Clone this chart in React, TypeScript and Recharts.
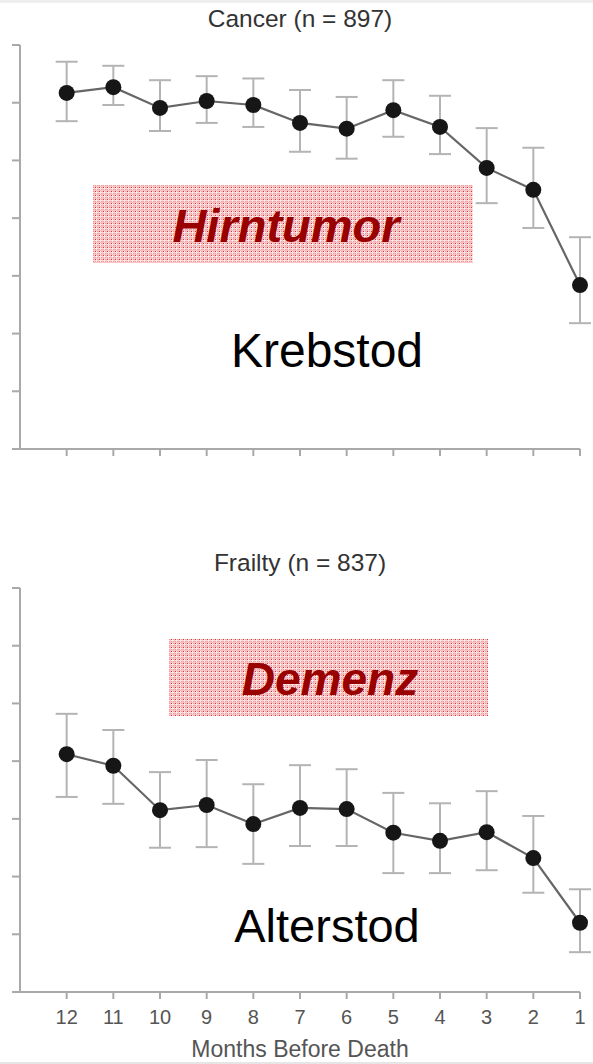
import React from 'react';
import { LineChart, Line, XAxis, YAxis, ErrorBar } from 'recharts';

const months = [12, 11, 10, 9, 8, 7, 6, 5, 4, 3, 2, 1];
const yTicks = [0, 1, 2, 3, 4, 5, 6, 7];

const cancerMean = [6.17, 6.27, 5.91, 6.03, 5.96, 5.65, 5.55, 5.87, 5.58, 4.87, 4.49, 2.84];
const cancerUpper = [6.71, 6.64, 6.39, 6.46, 6.42, 6.22, 6.1, 6.39, 6.12, 5.56, 5.22, 3.67];
const cancerLower = [5.68, 5.96, 5.51, 5.65, 5.58, 5.15, 5.03, 5.41, 5.11, 4.26, 3.83, 2.18];

const frailtyMean = [4.12, 3.92, 3.15, 3.24, 2.91, 3.19, 3.17, 2.76, 2.62, 2.77, 2.32, 1.2];
const frailtyUpper = [4.82, 4.54, 3.81, 4.02, 3.6, 3.93, 3.86, 3.45, 3.27, 3.48, 3.05, 1.78];
const frailtyLower = [3.38, 3.26, 2.5, 2.51, 2.22, 2.53, 2.53, 2.06, 2.06, 2.11, 1.72, 0.69];

const FONT = '"Liberation Sans", Arial, Helvetica, sans-serif';
const AXIS = '#a9a9a9';

const buildRows = (mean: number[], upper: number[], lower: number[]) =>
  months.map((m, i) => ({
    month: m,
    value: mean[i],
    err: [+(mean[i] - lower[i]).toFixed(2), +(upper[i] - mean[i]).toFixed(2)],
  }));

const cancerRows = buildRows(cancerMean, cancerUpper, cancerLower);
const frailtyRows = buildRows(frailtyMean, frailtyUpper, frailtyLower);

// pink plaid fill behind the diagnosis labels
const Hatch = ({ id }: { id: string }) => (
  <defs>
    <pattern id={id} width={4} height={4} patternUnits="userSpaceOnUse">
      <rect width={4} height={4} fill="#f19a9c" />
      <rect x={0} y={0} width={4} height={1} fill="#fde8e8" />
      <rect x={0} y={0} width={1} height={4} fill="#fde8e8" />
      <rect x={2} y={0} width={1} height={4} fill="#f7c3c4" />
      <rect x={0} y={2} width={4} height={1} fill="#f7c3c4" />
      <rect x={3} y={3} width={1} height={1} fill="#de2f36" />
    </pattern>
  </defs>
);

interface PanelProps {
  rows: { month: number; value: number; err: number[] }[];
  height: number;
  top: number;
  axisHeight: number;
  showTicks: boolean;
  patternId: string;
  children?: React.ReactNode;
}

const Panel: React.FC<PanelProps> = ({ rows, height, top, axisHeight, showTicks, patternId, children }) => (
  <LineChart
    width={593}
    height={height}
    data={rows}
    margin={{ top, right: 13, bottom: 0, left: 0 }}
    style={{ fontFamily: FONT }}
  >
    <Hatch id={patternId} />
    <XAxis
      type="number"
      dataKey="month"
      domain={[1, 13]}
      reversed
      ticks={months}
      interval={0}
      height={axisHeight}
      stroke={AXIS}
      strokeWidth={2}
      tickSize={7}
      tickMargin={11}
      tick={{ fill: '#555', fontSize: 20, fontFamily: FONT }}
      tickFormatter={(v) => (showTicks ? String(v) : '')}
      label={
        showTicks
          ? { value: 'Months Before Death', position: 'insideBottom', offset: 7, fill: '#555', fontSize: 23, fontFamily: FONT }
          : undefined
      }
    />
    <YAxis
      type="number"
      domain={[0, 7]}
      ticks={yTicks}
      width={20}
      stroke={AXIS}
      strokeWidth={2}
      tickSize={8}
      tickFormatter={() => ''}
    />
    <Line
      dataKey="value"
      stroke="#666"
      strokeWidth={2.2}
      dot={{ r: 8, fill: '#161616', stroke: '#161616', strokeWidth: 0 }}
      isAnimationActive={false}
    >
      <ErrorBar dataKey="err" width={11} stroke="#b4b4b4" strokeWidth={2} direction="y" />
    </Line>
    {children}
  </LineChart>
);

export default function App() {
  return (
    <div style={{ position: 'absolute', top: 0, left: 0, width: 593, height: 1064, background: '#fff' }}>
      <div style={{ position: 'absolute', top: 0, left: 0, width: 593, height: 3, background: '#eeeeee' }} />
      <div style={{ position: 'absolute', top: 0, left: 0 }}>
        <Panel rows={cancerRows} height={540} top={45} axisHeight={91} showTicks={false} patternId="hatchTop">
          <text x={300} y={27} textAnchor="middle" fontSize={24.5} fill="#333" fontFamily={FONT}>
            Cancer (n = 897)
          </text>
          <rect x={93} y={185} width={380} height={78} fill="url(#hatchTop)" />
          <text x={286} y={242} textAnchor="middle" fontSize={47} fontWeight="bold" fontStyle="italic" fill="#990000" fontFamily={FONT}>
            Hirntumor
          </text>
          <text x={327} y={367} textAnchor="middle" fontSize={48} fill="#000" fontFamily={FONT}>
            Krebstod
          </text>
        </Panel>
      </div>
      <div style={{ position: 'absolute', top: 540, left: 0 }}>
        <Panel rows={frailtyRows} height={524} top={48} axisHeight={72} showTicks={true} patternId="hatchBottom">
          <text x={300} y={31} textAnchor="middle" fontSize={24.5} fill="#333" fontFamily={FONT}>
            Frailty (n = 837)
          </text>
          <rect x={169} y={99} width={319} height={77} fill="url(#hatchBottom)" />
          <text x={330} y={155} textAnchor="middle" fontSize={46} fontWeight="bold" fontStyle="italic" fill="#990000" fontFamily={FONT}>
            Demenz
          </text>
          <text x={327} y={402} textAnchor="middle" fontSize={47} fill="#000" fontFamily={FONT}>
            Alterstod
          </text>
        </Panel>
      </div>
      <div style={{ position: 'absolute', top: 1062, left: 0, width: 593, height: 2, background: '#e6e6e6' }} />
    </div>
  );
}
